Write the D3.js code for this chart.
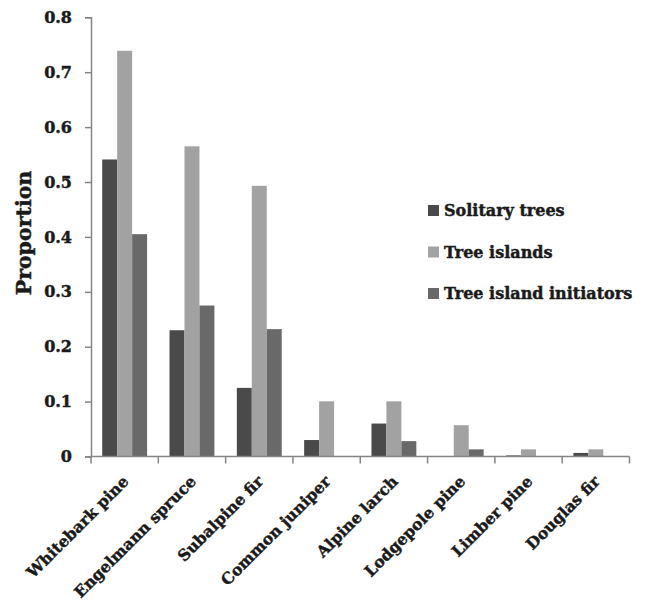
<!DOCTYPE html>
<html>
<head>
<meta charset="utf-8">
<script src="https://cdn.jsdelivr.net/npm/d3@7"></script>
<style>
  body { margin: 0; background: #fff; }
  text { font-family: "DejaVu Serif", serif; font-weight: bold; fill: #1a1a1a;
         stroke: #1a1a1a; stroke-width: 0.45px; }
</style>
</head>
<body>
<div class="canvas"></div>
<script>
const categories = ['Whitebark pine', 'Engelmann spruce', 'Subalpine fir', 'Common juniper',
  'Alpine larch', 'Lodgepole pine', 'Limber pine', 'Douglas fir'];
const seriesNames = ['Solitary trees', 'Tree islands', 'Tree island initiators'];
const solitary = [0.541, 0.23, 0.125, 0.03, 0.06, 0, 0.002, 0.0065];
const islands = [0.739, 0.565, 0.493, 0.1005, 0.1005, 0.057, 0.013, 0.013];
const initiators = [0.405, 0.275, 0.232, 0, 0.028, 0.013, 0, 0];
const yTicks = [0, 0.1, 0.2, 0.3, 0.4, 0.5, 0.6, 0.7, 0.8];
const colors = ['#4a4a4a', '#a2a2a2', '#696969'];

const width = 649;
const height = 602;
const margin = {top: 17.3, left: 91, right: 19.5, bottom: 145.5};
const graphWidth = width - margin.left - margin.right;
const graphHeight = height - margin.top - margin.bottom;

const seriesValues = [solitary, islands, initiators];
const data = categories.map((c, i) => ({cat: c, vals: seriesValues.map(s => s[i])}));

const svg = d3.select('.canvas')
  .append('svg')
  .attr('width', width)
  .attr('height', height);

const graph = svg.append('g')
  .attr('transform', `translate(${margin.left}, ${margin.top})`);

const y = d3.scaleLinear()
  .domain([0, 0.8])
  .range([graphHeight, 0]);

const x = d3.scaleBand()
  .domain(categories)
  .range([0, graphWidth]);

const x1 = d3.scaleBand()
  .domain(d3.range(seriesNames.length))
  .range([0, x.bandwidth()])
  .paddingInner(0)
  .paddingOuter(0.75);

// bars
const groups = graph.selectAll('g.group')
  .data(data)
  .enter()
  .append('g')
  .attr('class', 'group')
  .attr('transform', d => `translate(${x(d.cat)}, 0)`);

groups.selectAll('rect')
  .data(d => d.vals)
  .enter()
  .append('rect')
  .attr('x', (d, i) => x1(i))
  .attr('width', x1.bandwidth())
  .attr('y', d => y(d))
  .attr('height', d => graphHeight - y(d))
  .attr('fill', (d, i) => colors[i]);

// axes
const axisColor = '#858585';
const gYAxis = graph.append('g');
gYAxis.call(d3.axisLeft(y).tickValues(yTicks).tickSize(6).tickPadding(13)
  .tickFormat(d => d === 0 ? '0' : d3.format('.1f')(d)));
gYAxis.select('.domain').attr('stroke', axisColor).attr('stroke-width', 1.5);
gYAxis.selectAll('.tick line').attr('stroke', axisColor).attr('stroke-width', 1.5);
gYAxis.selectAll('text')
  .style('font-size', '16px')
  .style('font-family', '"DejaVu Serif", serif')
  .style('font-weight', 'bold')
  .attr('fill', '#1a1a1a');

const gXAxis = graph.append('g')
  .attr('transform', `translate(0, ${graphHeight})`);
const xTickPos = d3.range(categories.length + 1).map(i => i * x.step());
gXAxis.append('line')
  .attr('x1', 0).attr('x2', graphWidth)
  .attr('stroke', axisColor).attr('stroke-width', 1.5);
gXAxis.selectAll('line.tk')
  .data(xTickPos)
  .enter()
  .append('line')
  .attr('class', 'tk')
  .attr('x1', d => d).attr('x2', d => d)
  .attr('y1', 0).attr('y2', 7)
  .attr('stroke', axisColor).attr('stroke-width', 1.5);

gXAxis.selectAll('text.cat')
  .data(categories)
  .enter()
  .append('text')
  .attr('class', 'cat')
  .attr('text-anchor', 'end')
  .attr('transform', d => `translate(${x(d) + x.bandwidth() / 2 + 5}, 26) rotate(-45)`)
  .style('font-size', '15.7px')
  .text(d => d);

// y axis title
svg.append('text')
  .attr('transform', `translate(31, 233) rotate(-90)`)
  .attr('text-anchor', 'middle')
  .style('font-size', '20.5px')
  .text('Proportion');

// legend
const legend = svg.append('g')
  .attr('transform', 'translate(428, 216)');
const items = legend.selectAll('g')
  .data(seriesNames)
  .enter()
  .append('g')
  .attr('transform', (d, i) => `translate(0, ${i * 41.5})`);
items.append('rect')
  .attr('y', -11)
  .attr('width', 11)
  .attr('height', 11)
  .attr('fill', (d, i) => colors[i]);
items.append('text')
  .attr('x', 16)
  .style('font-size', '16px')
  .text(d => d);
</script>
</body>
</html>
